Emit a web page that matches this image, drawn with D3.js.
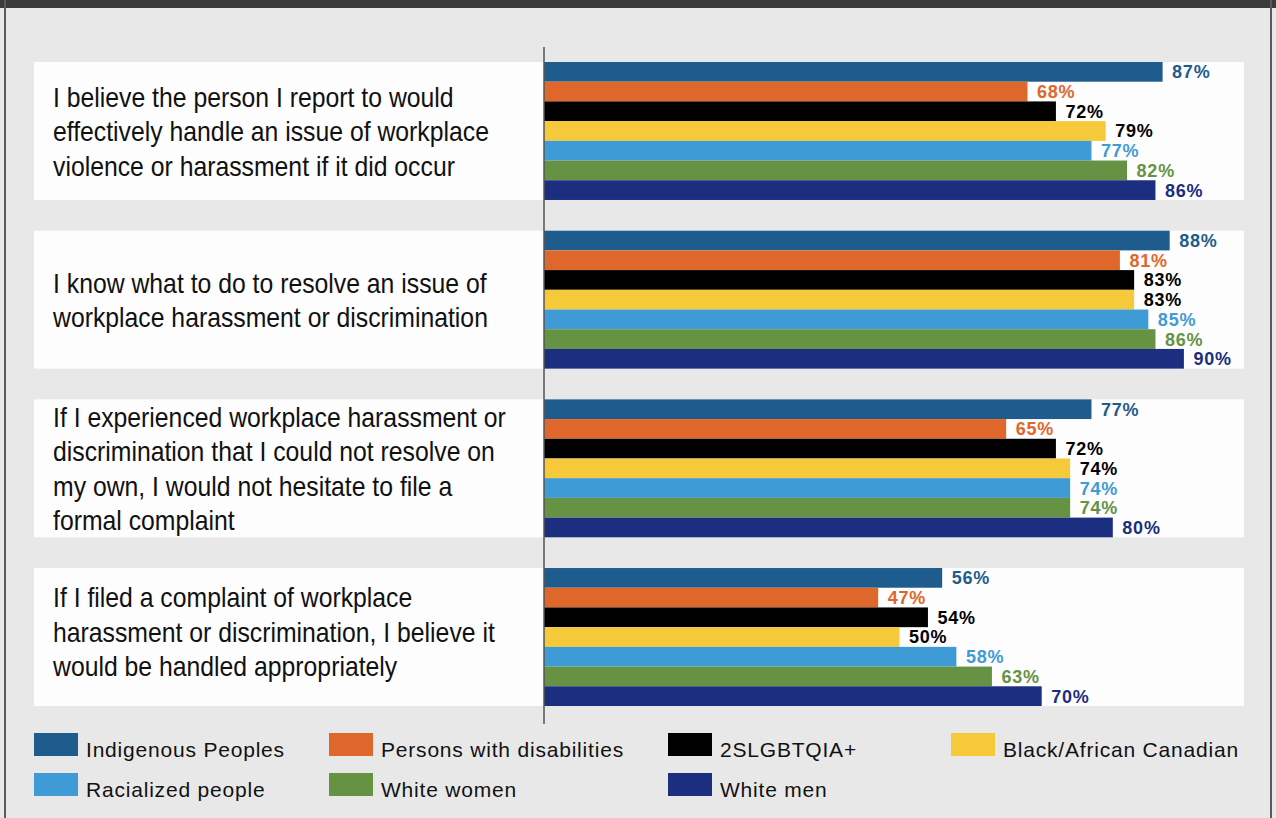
<!DOCTYPE html>
<html>
<head>
<meta charset="utf-8">
<script src="https://cdn.jsdelivr.net/npm/d3@7"></script>
<style>
  html, body { margin: 0; padding: 0; background: #e8e8e8; }
  svg { display: block; }
</style>
</head>
<body>
<svg id="chart" width="1276" height="818"></svg>
<script>
// Survey statements (one row each), wrapped as displayed
const questions = [
  ["I believe the person I report to would", "effectively handle an issue of workplace", "violence or harassment if it did occur"],
  ["I know what to do to resolve an issue of", "workplace harassment or discrimination"],
  ["If I experienced workplace harassment or", "discrimination that I could not resolve on", "my own, I would not hesitate to file a", "formal complaint"],
  ["If I filed a complaint of workplace", "harassment or discrimination, I believe it", "would be handled appropriately"]
];

// Groups, in bar order within each row
const groups = ["Indigenous Peoples", "Persons with disabilities", "2SLGBTQIA+", "Black/African Canadian",
                "Racialized people", "White women", "White men"];

// Percent agreeing, per group, one value per statement
const indigenous   = [87, 88, 77, 56];
const disabilities = [68, 81, 65, 47];
const lgbtq        = [72, 83, 72, 54];
const black        = [79, 83, 74, 50];
const racialized   = [77, 85, 74, 58];
const whiteWomen   = [82, 86, 74, 63];
const whiteMen     = [86, 90, 80, 70];

const seriesValues = [indigenous, disabilities, lgbtq, black, racialized, whiteWomen, whiteMen];

const barColors   = ["#1f5c8e", "#e0672c", "#000000", "#f5c93a", "#3f9bd6", "#669244", "#1c2e80"];
const labelColors = ["#1f5c8e", "#e0672c", "#000000", "#000000", "#3f9bd6", "#669244", "#1c2e80"];

const svg = d3.select("#chart");
const W = 1276, H = 818;

// frame
svg.append("rect").attr("x", 0).attr("y", 0).attr("width", W).attr("height", H).attr("fill", "#e8e8e8");
svg.append("rect").attr("x", 0).attr("y", 0).attr("width", W).attr("height", 8).attr("fill", "#3b3b3b");
svg.append("rect").attr("x", 4).attr("y", 0).attr("width", 2).attr("height", H).attr("fill", "#5a5a5a");
svg.append("rect").attr("x", 1270).attr("y", 0).attr("width", 2).attr("height", H).attr("fill", "#5a5a5a");

const x0 = 544;
const x = d3.scaleLinear().domain([0, 100]).range([x0, 1255]);

const rowIdx = d3.range(questions.length);
const y = d3.scaleBand().domain(rowIdx).range([62, 706]).paddingInner(0.182);
const yInner = d3.scaleBand().domain(d3.range(groups.length)).range([0, y.bandwidth()]);

const font = "'Liberation Sans', Arial, sans-serif";

// white row panels
svg.append("g").selectAll("rect").data(rowIdx).join("rect")
  .attr("x", 34).attr("width", 1244 - 34)
  .attr("y", d => y(d)).attr("height", y.bandwidth())
  .attr("fill", "#fdfdfd");

// statement text, horizontally condensed; last block sits a little high in its panel
const lineH = 34.5;
const blockShift = [0, 0, 0, -5.5];
const qg = svg.append("g").attr("font-family", font).attr("font-size", 28).attr("fill", "#111");
rowIdx.forEach(i => {
  const lines = questions[i];
  const cy = y(i) + y.bandwidth() / 2 + blockShift[i];
  const start = cy - (lines.length - 1) * lineH / 2;
  qg.selectAll(null).data(lines).join("text")
    .attr("transform", (d, k) => `translate(53,${start + k * lineH}) scale(0.885,1)`)
    .attr("dy", "0.36em")
    .text(d => d);
});

// bars
const bg = svg.append("g");
rowIdx.forEach(i => {
  const g = bg.append("g").attr("transform", `translate(0,${y(i)})`);
  const rows = seriesValues.map((s, j) => ({ v: s[i], j }));
  g.selectAll("rect").data(rows).join("rect")
    .attr("x", x(0))
    .attr("y", d => yInner(d.j))
    .attr("width", d => x(d.v) - x(0))
    .attr("height", yInner.bandwidth())
    .attr("fill", d => barColors[d.j]);
  g.selectAll("text").data(rows).join("text")
    .attr("x", d => x(d.v) + 9.5)
    .attr("y", d => yInner(d.j) + yInner.bandwidth() / 2)
    .attr("dy", "0.36em")
    .attr("font-family", font)
    .attr("font-weight", "bold")
    .attr("font-size", 18)
    .attr("letter-spacing", 0.8)
    .attr("fill", d => labelColors[d.j])
    .text(d => d.v + "%");
});

// vertical axis line
svg.append("line")
  .attr("x1", x0).attr("x2", x0).attr("y1", 47).attr("y2", 724)
  .attr("stroke", "#555").attr("stroke-width", 1.5);

// legend
const legendPos = [
  [34, 733], [329, 733], [668, 733], [951, 733],
  [34, 773], [329, 773], [668, 773]
];
const lg = svg.append("g").attr("font-family", font).attr("font-size", 21)
  .attr("letter-spacing", 0.8).attr("fill", "#111");
groups.forEach((name, j) => {
  const [lx, ly] = legendPos[j];
  lg.append("rect").attr("x", lx).attr("y", ly).attr("width", 44).attr("height", 23).attr("fill", barColors[j]);
  lg.append("text").attr("x", lx + 52).attr("y", ly + 24).text(name);
});
</script>
</body>
</html>
